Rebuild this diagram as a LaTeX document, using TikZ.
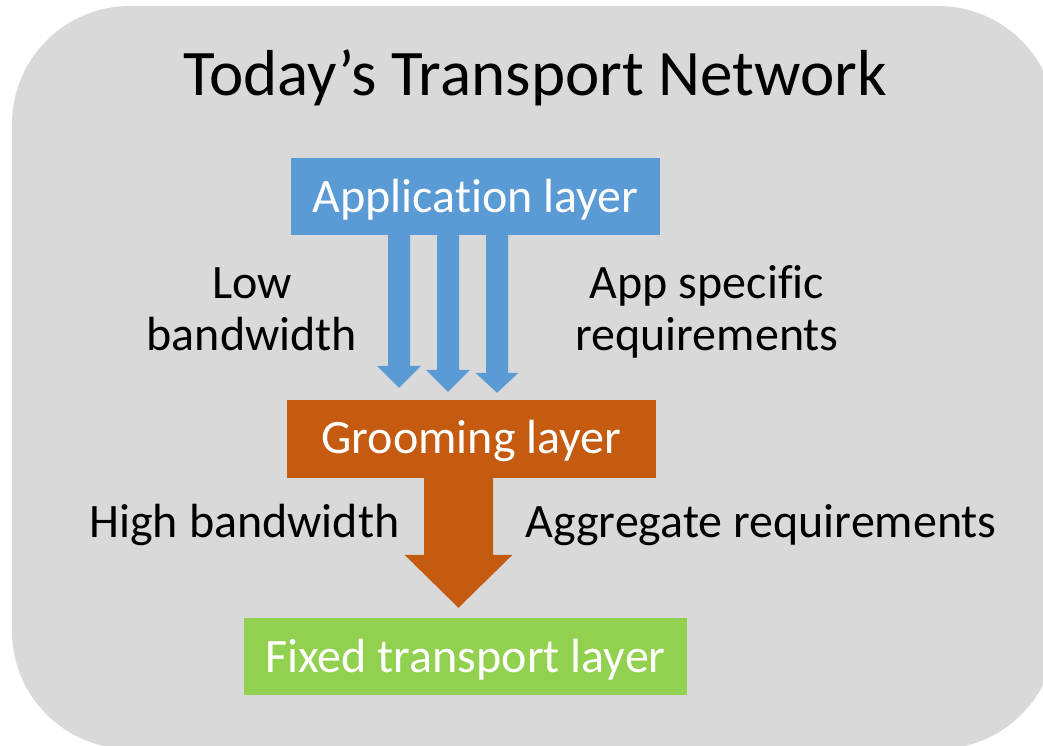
\documentclass[tikz,border=0pt]{standalone}
\usepackage{fontspec}
\setmainfont[Ligatures=NoCommon]{Carlito}
\usetikzlibrary{calc}

\definecolor{panelgray}{HTML}{D9D9D9}
\definecolor{appblue}{HTML}{5B9BD5}
\definecolor{groomorange}{HTML}{C55A11}
\definecolor{fixedgreen}{HTML}{92D050}

% Block arrow: [fill options]{start}{tip}{half shaft width}{half head width}{head length}
\newcommand\BlockArrow[6][]{%
  \fill[#1] let \p1=(#2), \p2=(#3) in
    (\x1-#4pt,\y1) -- (\x1+#4pt,\y1) -- (\x1+#4pt,\y2+#6pt) -- (\x1+#5pt,\y2+#6pt)
    -- (\x1,\y2) -- (\x1-#5pt,\y2+#6pt) -- (\x1-#4pt,\y2+#6pt) -- cycle;}

\begin{document}
\begin{tikzpicture}[x=1pt,y=-1pt,
  layerbox/.style={inner sep=0pt, text=white, font=\fontsize{48}{58}\selectfont},
  label/.style={align=center, anchor=base, font=\fontsize{48}{51.5}\selectfont}]
  \useasboundingbox (0,0) rectangle (1043,746);
  \clip (0,0) rectangle (1043,746);

  % rounded panel behind everything
  \fill[panelgray, rounded corners=118pt] (12,6) rectangle (1056,749);

  \node[anchor=base, font=\fontsize{65}{78}\selectfont] (title) at (535,96) {Today’s Transport Network};

  % layers
  \node[layerbox, fill=appblue, minimum width=369pt, minimum height=77pt,
        text height=31pt, text depth=0pt] (app) at (475.5,196.5) {Application layer};
  \node[layerbox, fill=groomorange, minimum width=369pt, minimum height=78pt,
        text height=28pt, text depth=0pt] (groom) at (471.5,439) {Grooming layer};
  \node[layerbox, fill=fixedgreen, minimum width=443pt, minimum height=77pt,
        text height=31pt, text depth=0pt] (fixed) at (465.5,656.5) {Fixed transport layer};

  % thin arrows from the application layer
  \coordinate (a1s) at ($(app.south)+(-76.5,0)$);
  \coordinate (a1t) at ($(groom.north)+(-72.5,-12)$);
  \coordinate (a2s) at ($(app.south)+(-27.5,0)$);
  \coordinate (a2t) at ($(groom.north)+(-23.5,-8)$);
  \coordinate (a3s) at ($(app.south)+(21.5,0)$);
  \coordinate (a3t) at ($(groom.north)+(25.5,-7)$);
  \BlockArrow[appblue]{a1s}{a1t}{11}{22}{22}
  \BlockArrow[appblue]{a2s}{a2t}{11}{22}{22}
  \BlockArrow[appblue]{a3s}{a3t}{11}{21.5}{20}

  % thick arrow into the fixed transport layer
  \coordinate (gs) at ($(groom.south)+(-13,0)$);
  \coordinate (gt) at ($(fixed.north)+(-7.5,-10)$);
  \BlockArrow[groomorange]{gs}{gt}{34.5}{54}{53}

  % side labels (base anchor sits on the last line)
  \node[label] (lowbw) at (252,350) {Low\\bandwidth};
  \node[label] (appreq) at (707,350) {App specific\\requirements};
  \node[anchor=base, font=\fontsize{48}{51.5}\selectfont] (highbw) at (244.5,537) {High bandwidth};
  \node[anchor=base, font=\fontsize{48}{51.5}\selectfont] (aggreq) at (761,537) {Aggregate requirements};
\end{tikzpicture}
\end{document}
